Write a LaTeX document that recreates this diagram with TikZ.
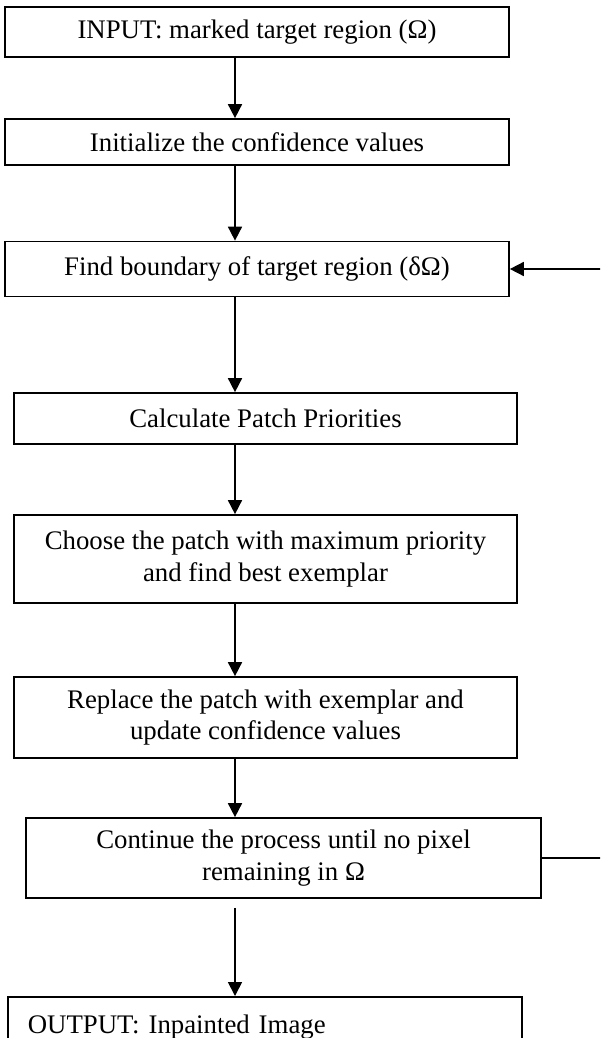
\documentclass[tikz,border=0pt]{standalone}
\usepackage{fontspec}
\setmainfont{Liberation Serif}
\usetikzlibrary{arrows.meta,calc}
\begin{document}
\begin{tikzpicture}[x=1pt,y=-1pt,
  box/.style={draw,line width=1.7pt,inner sep=0pt,align=center,font=\fontsize{26.8}{31.5}\selectfont},
  arr/.style={line width=1.7pt,-{Triangle[width=14pt,length=14pt]}}]
\useasboundingbox (0,0) rectangle (600,1038);
\clip (0,0) rectangle (600,1038);
\coordinate (ax) at (235,0);
\node[box,minimum width=504pt,minimum height=50pt] (b1) at (257,32) {INPUT: marked target region (Ω)};
\node[box,minimum width=504pt,minimum height=46pt] (b2) at (257,142) {Initialize the confidence values};
\node[box,minimum width=504pt,minimum height=55pt] (b3) at (257,269) {Find boundary of target region (δΩ)};
\node[box,minimum width=503pt,minimum height=51pt] (b4) at (265.5,418.5) {Calculate Patch Priorities};
\node[box,minimum width=503pt,minimum height=88pt] (b5) at (265.5,559) {Choose the patch with maximum priority\\and find best exemplar};
\node[box,minimum width=503pt,minimum height=81pt] (b6) at (265.5,717.5) {Replace the patch with exemplar and\\update confidence values};
\node[box,minimum width=515pt,minimum height=80pt] (b7) at (283.5,858) {Continue the process until no pixel\\remaining in Ω};
\node[box,anchor=north west,text width=474pt,align=left,inner xsep=20pt,inner ysep=18pt] (b8) at (7,996) {OUTPUT: Inpainted Image};
\draw[arr] (b1.south -| ax) -- (b2.north -| ax);
\draw[arr] (b2.south -| ax) -- (b3.north -| ax);
\draw[arr] (b3.south -| ax) -- (b4.north -| ax);
\draw[arr] (b4.south -| ax) -- (b5.north -| ax);
\draw[arr] (b5.south -| ax) -- (b6.north -| ax);
\draw[arr] (b6.south -| ax) -- (b7.north -| ax);
\draw[arr,shorten <=9pt] (b7.south -| ax) -- (b8.north -| ax);
\coordinate (r1) at (604,0 |- b7.east);
\coordinate (r2) at (604,0 |- b3.east);
\draw[arr] (b7.east) -- (r1 |- b7.east) -- (r2) -- (b3.east);
\end{tikzpicture}
\end{document}
